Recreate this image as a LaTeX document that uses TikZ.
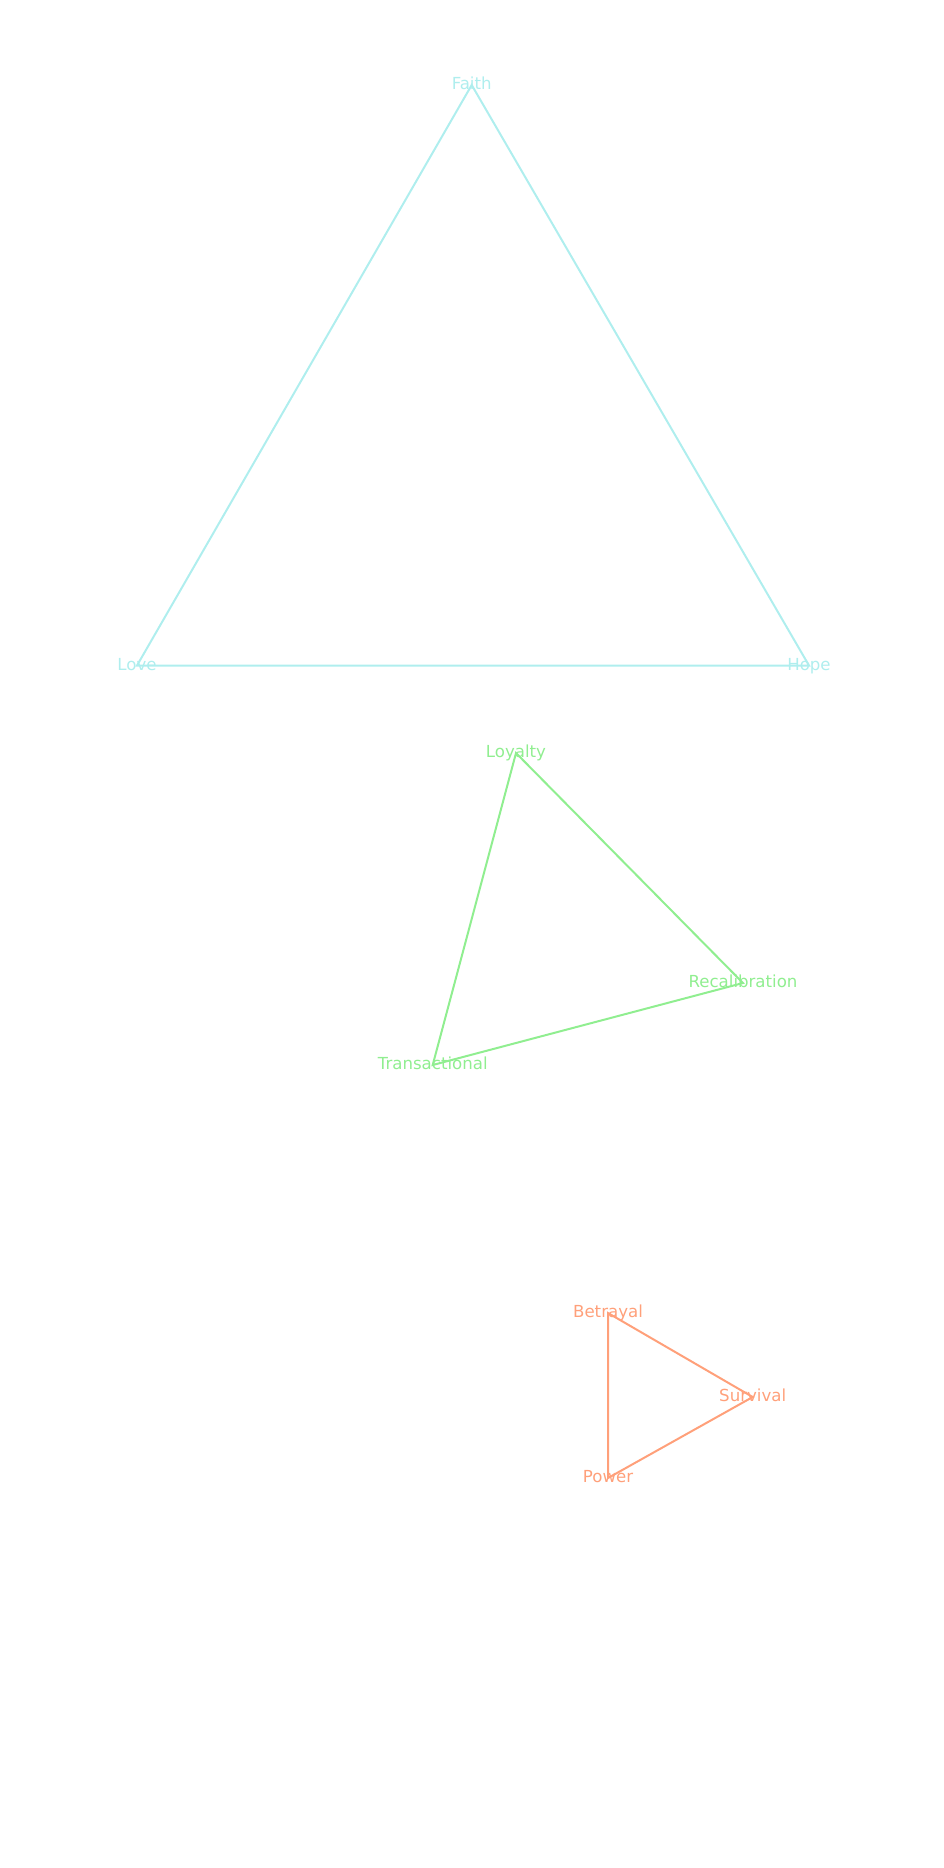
\documentclass[tikz,border=0pt]{standalone}
\usepackage{fontspec}
\setmainfont{DejaVu Sans}
\definecolor{cyanc}{HTML}{AFEEEE}
\definecolor{greenc}{HTML}{90EE90}
\definecolor{salmonc}{HTML}{FFA07A}
\begin{document}
\begin{tikzpicture}[x=1pt,y=-1pt,
  vlabel/.style={inner sep=0pt,font=\fontsize{16.6}{20}\selectfont,anchor=center,text height=0.92em,text depth=0pt},
  edge/.style={line width=2pt,line join=miter}]
\useasboundingbox (0,0) rectangle (944,1868);
% triangle 1
\coordinate (faith) at (471.7,85);
\coordinate (love) at (137,665.5);
\coordinate (hope) at (809,665.5);
\draw[edge,cyanc] (faith) -- (hope) -- (love) -- cycle;
\node[vlabel,text=cyanc] (tfaith) at (faith) {Faith};
\node[vlabel,text=cyanc] (tlove) at (love) {Love};
\node[vlabel,text=cyanc] (thope) at (hope) {Hope};
% triangle 2
\coordinate (loyalty) at (516,753);
\coordinate (recal) at (743,983);
\coordinate (trans) at (432.7,1065);
\draw[edge,greenc] (loyalty) -- (recal) -- (trans) -- cycle;
\node[vlabel,text=greenc] (tloyalty) at (loyalty) {Loyalty};
\node[vlabel,text=greenc] (trecal) at (recal) {Recalibration};
\node[vlabel,text=greenc] (ttrans) at (trans) {Transactional};
% triangle 3
\coordinate (betrayal) at (608,1313);
\coordinate (survival) at (752.7,1397);
\coordinate (power) at (608,1478);
\draw[edge,salmonc] (betrayal) -- (survival) -- (power) -- cycle;
\node[vlabel,text=salmonc] (tbetrayal) at (betrayal) {Betrayal};
\node[vlabel,text=salmonc] (tsurvival) at (survival) {Survival};
\node[vlabel,text=salmonc] (tpower) at (power) {Power};
\end{tikzpicture}
\end{document}
